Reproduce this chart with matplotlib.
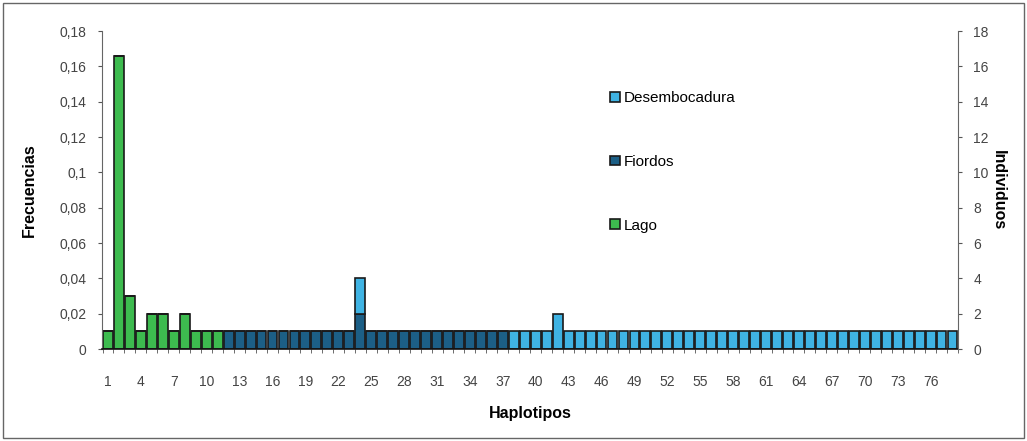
import matplotlib

matplotlib.use("Agg")
import matplotlib.pyplot as plt
import numpy as np
from matplotlib.patches import Rectangle

plt.rcParams["font.family"] = ["Liberation Sans", "DejaVu Sans"]

# haplotype frequencies per sampling zone (78 haplotypes)
haplotipos = np.arange(1, 79)
lago = [0.01, 0.166, 0.03, 0.01, 0.02, 0.02, 0.01, 0.02, 0.01, 0.01, 0.01] + [0] * 67
fiordos = [0] * 11 + [0.01] * 12 + [0.02] + [0.01] * 13 + [0] * 41
desembocadura = [0] * 23 + [0.02] + [0] * 13 + [0.01] * 4 + [0.02] + [0.01] * 36
xtick_labels = list(range(1, 77, 3))
yticks_left = [0, 0.02, 0.04, 0.06, 0.08, 0.1, 0.12, 0.14, 0.16, 0.18]
yticks_right = list(range(0, 19, 2))

C_LAGO = "#3dbb4f"
C_FIORDOS = "#1c5f86"
C_DESEMB = "#3fb3e3"

fig = plt.figure(figsize=(10.27, 4.41), dpi=100)
ax = fig.add_axes([0.0993, 0.2086, 0.8335, 0.7211])

lago = np.array(lago)
fiordos = np.array(fiordos)
desembocadura = np.array(desembocadura)

kw = dict(width=0.9, edgecolor="#1a1a1a", linewidth=1.2)
ax.bar(haplotipos, lago, color=C_LAGO, label="Lago", **kw)
ax.bar(haplotipos, fiordos, bottom=lago, color=C_FIORDOS, label="Fiordos", **kw)
ax.bar(haplotipos, desembocadura, bottom=lago + fiordos, color=C_DESEMB,
       label="Desembocadura", **kw)

ax.set_xlim(0.45, 78.5)
ax.set_ylim(0, 0.18)
ax.set_yticks(yticks_left)
ax.set_yticklabels([f"{v:g}".replace(".", ",") for v in yticks_left])
ax.set_xticks(xtick_labels)
ax.set_xticklabels([str(v) for v in xtick_labels])
ax.set_xticks(np.arange(0.5, 79, 1), minor=True)
ax.tick_params(axis="x", which="major", length=0, pad=19, labelsize=10, labelcolor="#444444")
ax.tick_params(axis="x", which="minor", length=3, color="#555555")
ax.tick_params(axis="y", length=3, labelsize=10, labelcolor="#444444", color="#555555", pad=8)

for side in ("top", "right"):
    ax.spines[side].set_visible(False)
ax.spines["left"].set_color("#666666")
ax.spines["bottom"].set_color("#111111")
ax.spines["bottom"].set_linewidth(1.2)

ax.set_ylabel("Frecuencias", fontsize=11.5, fontweight="bold", labelpad=16)
ax.set_xlabel("Haplotipos", fontsize=11.5, fontweight="bold", labelpad=12)

ax2 = ax.twinx()
ax2.set_ylim(0, 18)
ax2.set_yticks(yticks_right)
ax2.tick_params(axis="y", length=3, labelsize=10, labelcolor="#444444", color="#555555", pad=8)
for side in ("top", "left", "bottom"):
    ax2.spines[side].set_visible(False)
ax2.spines["right"].set_color("#666666")
ax2.set_ylabel("Individuos", fontsize=11.5, fontweight="bold", rotation=270, labelpad=12)

handles, labels = ax.get_legend_handles_labels()
fig.legend(handles[::-1], labels[::-1], loc="upper left", bbox_to_anchor=(0.581, 0.824),
           frameon=False, fontsize=11, handlelength=0.6, handleheight=0.6,
           handletextpad=0.25, labelspacing=3.25)

# outer frame around the whole figure
fig.patches.append(Rectangle((0.003, 0.006), 0.994, 0.988, transform=fig.transFigure,
                             fill=False, edgecolor="#666666", linewidth=1.0))

fig.savefig("out.png", dpi=100)
